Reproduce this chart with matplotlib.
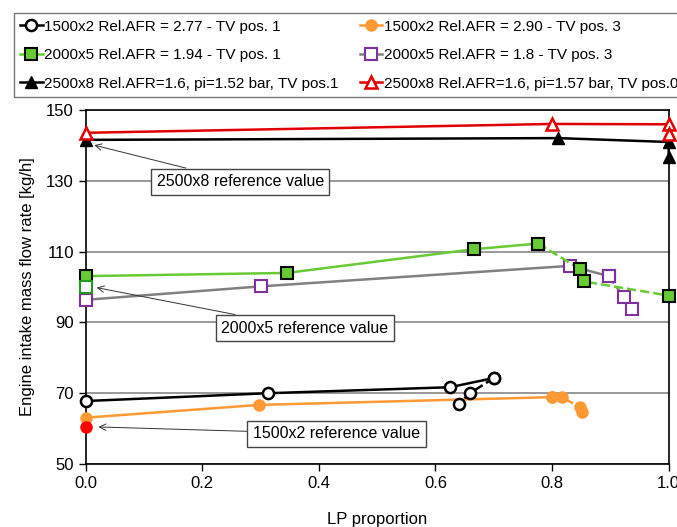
import numpy as np
import matplotlib.pyplot as plt

plt.rcParams['font.family'] = ['Liberation Sans', 'DejaVu Sans']

# 1500x2 Rel.AFR = 2.77 - TV pos. 1
lp_1500_tv1 = [0.0, 0.312, 0.625, 0.70]
m_1500_tv1 = [67.8, 70.0, 71.7, 74.3]
lp_1500_tv1_b = [0.70, 0.659, 0.640]
m_1500_tv1_b = [74.3, 70.0, 67.1]

# 1500x2 Rel.AFR = 2.90 - TV pos. 3
lp_1500_tv3 = [0.0, 0.297, 0.800]
m_1500_tv3 = [63.1, 66.7, 68.9]
lp_1500_tv3_b = [0.800, 0.817, 0.848, 0.852]
m_1500_tv3_b = [68.9, 68.9, 66.0, 64.8]

# 2000x5 Rel.AFR = 1.94 - TV pos. 1
lp_2000_tv1 = [0.0, 0.345, 0.666, 0.776]
m_2000_tv1 = [103.1, 104.0, 110.7, 112.3]
lp_2000_tv1_b = [0.776, 0.848, 0.854, 1.0]
m_2000_tv1_b = [112.3, 105.1, 101.6, 97.6]

# 2000x5 Rel.AFR = 1.8 - TV pos. 3
lp_2000_tv3 = [0.0, 0.300, 0.831, 0.897]
m_2000_tv3 = [96.4, 100.2, 106.0, 103.1]
lp_2000_tv3_b = [0.897, 0.923, 0.937]
m_2000_tv3_b = [103.1, 97.2, 93.9]

# 2500x8 Rel.AFR=1.6, pi=1.52 bar, TV pos.1
lp_2500_tv1 = [0.0, 0.810, 1.0, 1.0]
m_2500_tv1 = [141.6, 142.1, 141.0, 136.8]

# 2500x8 Rel.AFR=1.6, pi=1.57 bar, TV pos.0
lp_2500_tv0 = [0.0, 0.800, 1.0, 1.0]
m_2500_tv0 = [143.6, 146.1, 146.0, 143.2]

# reference values
ref_2000 = (0.0, 99.9)
ref_1500 = (0.0, 60.5)

orange = '#ff9933'
green = '#66cc33'
purple = '#7f2f9f'

fig = plt.figure(figsize=(6.77, 5.27), dpi=100)
ax = fig.add_axes([0.1266, 0.1195, 0.8611, 0.6715])

common = dict(clip_on=False)

l1, = ax.plot(lp_1500_tv1, m_1500_tv1, '-', color='black', lw=1.8, marker='o',
              ms=8, mfc='white', mec='black', mew=1.8, zorder=4,
              label='1500x2 Rel.AFR = 2.77 - TV pos. 1', **common)
ax.plot(lp_1500_tv1_b, m_1500_tv1_b, '--', color='black', lw=1.8, marker='o',
        ms=8, mfc='white', mec='black', mew=1.8, zorder=4, **common)

l2, = ax.plot(lp_1500_tv3, m_1500_tv3, '-', color=orange, lw=1.8, marker='o',
              ms=8, mfc=orange, mec=orange, zorder=3,
              label='1500x2 Rel.AFR = 2.90 - TV pos. 3', **common)
ax.plot(lp_1500_tv3_b, m_1500_tv3_b, '--', color=orange, lw=1.8, marker='o',
        ms=8, mfc=orange, mec=orange, zorder=3, **common)

l3, = ax.plot(lp_2000_tv1, m_2000_tv1, '-', color=green, lw=1.8, marker='s',
              ms=8, mfc=green, mec='black', mew=1.5, zorder=4,
              label='2000x5 Rel.AFR = 1.94 - TV pos. 1', **common)
ax.plot(lp_2000_tv1_b, m_2000_tv1_b, '--', color=green, lw=1.8, marker='s',
        ms=8, mfc=green, mec='black', mew=1.5, zorder=4, **common)

l4, = ax.plot(lp_2000_tv3, m_2000_tv3, '-', color='gray', lw=1.8, marker='s',
              ms=8, mfc='white', mec=purple, mew=1.5, zorder=3,
              label='2000x5 Rel.AFR = 1.8 - TV pos. 3', **common)
ax.plot(lp_2000_tv3_b, m_2000_tv3_b, '--', color='gray', lw=1.8, marker='s',
        ms=8, mfc='white', mec=purple, mew=1.5, zorder=3, **common)

l5, = ax.plot(lp_2500_tv1, m_2500_tv1, '-', color='black', lw=1.8, marker='^',
              ms=9, mfc='black', mec='black', zorder=4,
              label='2500x8 Rel.AFR=1.6, pi=1.52 bar, TV pos.1', **common)
l6, = ax.plot(lp_2500_tv0, m_2500_tv0, '-', color='#e00000', lw=1.8, marker='^',
              ms=9, mfc='white', mec='#e00000', mew=1.8, zorder=4,
              label='2500x8 Rel.AFR=1.6, pi=1.57 bar, TV pos.0', **common)

# reference points
ax.plot(*ref_2000, 's', ms=8, mfc='white', mec='#229922', mew=1.5, zorder=5, **common)
ax.plot(*ref_1500, 'o', ms=8, color='#ff0000', zorder=5, **common)

box = dict(boxstyle='square,pad=0.35', fc='white', ec='#444444', lw=1)
arrow = dict(arrowstyle='->', color='#333333', lw=0.7, shrinkA=0, shrinkB=2)
ax.annotate('2500x8 reference value', xy=(0.010, 140.3), xytext=(0.265, 129.8),
            ha='center', va='center', fontsize=11.5, bbox=box, arrowprops=arrow)
ax.annotate('2000x5 reference value', xy=(0.014, 100.0), xytext=(0.376, 88.4),
            ha='center', va='center', fontsize=11.5, bbox=box, arrowprops=arrow)
ax.annotate('1500x2 reference value', xy=(0.017, 60.5), xytext=(0.430, 58.5),
            ha='center', va='center', fontsize=11.5, bbox=box, arrowprops=arrow)

ax.set_xlim(0, 1.0)
ax.set_ylim(50, 150)
ax.set_xticks(np.arange(0, 1.01, 0.2))
ax.set_xticklabels([f'{v:.1f}' for v in np.arange(0, 1.01, 0.2)])
ax.set_yticks([50, 70, 90, 110, 130, 150])
ax.yaxis.grid(True, color='#888888', lw=1.2)
ax.set_axisbelow(True)
ax.tick_params(labelsize=12, direction='out', length=5, width=1)
for s in ax.spines.values():
    s.set_linewidth(1.2)
ax.set_xlabel('LP proportion', fontsize=12, labelpad=15)
ax.set_ylabel('Engine intake mass flow rate [kg/h]', fontsize=12, labelpad=8)

# legend fills row by row in the reference
handles = [l1, l3, l5, l2, l4, l6]
fig.legend(handles=handles, loc='upper left', ncol=2,
           bbox_to_anchor=(0.020, 0.976), fontsize=11,
           frameon=True, fancybox=False, edgecolor='#555555',
           handlelength=1.45, handletextpad=0.12, borderaxespad=0,
           labelspacing=0.95, borderpad=0.45, columnspacing=1.37)

fig.savefig('out.png', dpi=100)
